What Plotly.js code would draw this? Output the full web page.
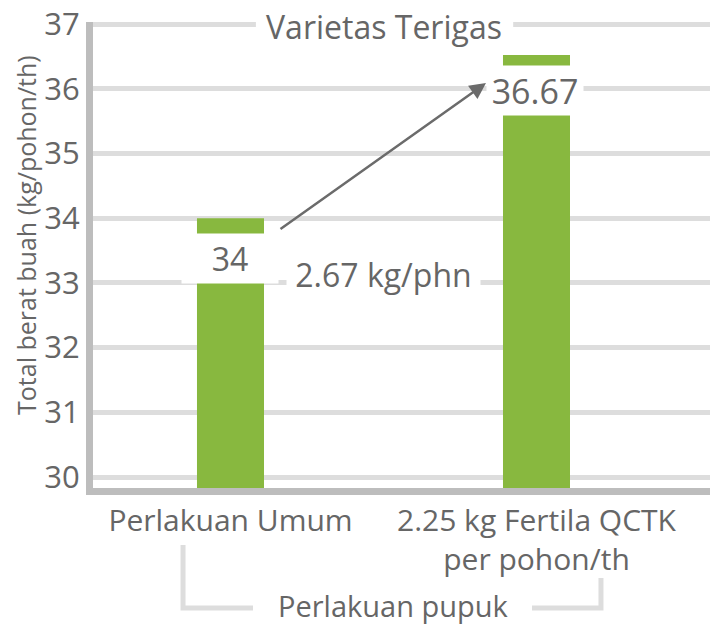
<!DOCTYPE html>
<html>
<head>
<meta charset="utf-8">
<script src="https://cdn.plot.ly/plotly-3.0.1.min.js"></script>
<style>html,body{margin:0;padding:0;background:#fff;}#chart{width:718px;height:626px;}</style>
</head>
<body>
<div id="chart"></div>
<script>
// ---- data ----
const categories = ["Perlakuan Umum", "2.25 kg Fertila QCTK<br>per pohon/th"];
const values = [34, 36.52];
const valueLabels = ["34", "36.67"];
const diffLabel = "2.67 kg/phn";
const yTicks = [30, 31, 32, 33, 34, 35, 36, 37];
const titleText = "Varietas Terigas";
const yTitle = "Total berat buah (kg/pohon/th)";
const xTitle = "Perlakuan pupuk";

const FONT = "Open Sans, Lato, sans-serif";
const TXT = "#666666";
const GREEN = "#88b83f";

const trace = {
  type: "bar",
  x: [0, 1],
  y: values,
  width: 0.219,
  marker: {color: GREEN},
  hoverinfo: "skip"
};

const annotations = [
  // difference arrow
  {x: 0.835, y: 36.088, ax: 0.1585, ay: 33.816, xref: "x", yref: "y", axref: "x", ayref: "y",
   text: "", showarrow: true, arrowhead: 2, arrowsize: 1.3, arrowwidth: 2.5, arrowcolor: "#6b6b6b", standoff: 0, startstandoff: 0},
  // value labels
  {x: 0, y: values[0], xref: "x", yref: "y", yanchor: "top", yshift: -15, text: valueLabels[0],
   showarrow: false, bgcolor: "#ffffff", width: 90, height: 43, borderpad: 3,
   font: {family: FONT, size: 32, color: TXT}},
  {x: 1, y: values[1], xref: "x", yref: "y", yanchor: "top", yshift: -10, xshift: -1, text: valueLabels[1],
   showarrow: false, bgcolor: "#ffffff", width: 90, height: 43, borderpad: 3,
   font: {family: FONT, size: 34, color: TXT}},
  {x: 0.5, y: 33.14, xref: "x", yref: "y", yanchor: "middle", text: diffLabel,
   showarrow: false, bgcolor: "#ffffff", width: 187, height: 42, borderpad: 3,
   font: {family: FONT, size: 32, color: TXT}},
  // axis titles
  {x: -0.1086, y: 0.543, xref: "paper", yref: "paper", xanchor: "center", yanchor: "middle", textangle: -90, text: yTitle,
   showarrow: false, font: {family: FONT, size: 25, color: TXT}},
  {x: 0.487, y: -0.2532, xref: "paper", yref: "paper", xanchor: "center", yanchor: "middle", text: xTitle,
   showarrow: false, font: {family: FONT, size: 29, color: TXT}}
];

const shapes = [
  // white backing behind title
  {type: "rect", xref: "paper", yref: "paper", x0: 0.264, x1: 0.681, y0: 0.970, y1: 1.0215,
   fillcolor: "#ffffff", line: {width: 0}, layer: "above"},
  // bracket linking categories to axis title
  {type: "path", xref: "paper", yref: "paper", path: "M 0.1459,-0.1223 L 0.1459,-0.2575 L 0.2593,-0.2575",
   line: {color: "#dddddd", width: 5}},
  {type: "path", xref: "paper", yref: "paper", path: "M 0.7115,-0.2575 L 0.8233,-0.2575 L 0.8233,-0.1931",
   line: {color: "#dddddd", width: 5}}
];

const layout = {
  width: 718, height: 626,
  margin: {l: 93, r: 8, t: 22, b: 138, pad: 0},
  paper_bgcolor: "#ffffff", plot_bgcolor: "#ffffff",
  showlegend: false,
  title: {text: titleText, x: 0.4716, xref: "paper", y: 0.956, yref: "container", yanchor: "middle", xanchor: "center",
          font: {family: FONT, size: 32, color: TXT}},
  xaxis: {
    range: [-0.4493, 1.567], tickvals: [0, 1], ticktext: categories,
    showgrid: false, zeroline: false, showline: true, linecolor: "#bdbdbd", linewidth: 7,
    ticks: "", tickfont: {family: FONT, size: 30, color: TXT}, fixedrange: true
  },
  yaxis: {
    range: [29.83, 37.031], tickvals: yTicks,
    showgrid: true, gridcolor: "#dddddd", gridwidth: 5, zeroline: false,
    showline: true, linecolor: "#bdbdbd", linewidth: 7,
    ticks: "", tickfont: {family: FONT, size: 31, color: TXT}, fixedrange: true
  },
  annotations: annotations,
  shapes: shapes
};

Plotly.newPlot("chart", [trace], layout, {staticPlot: true, displayModeBar: false});
</script>
</body>
</html>
